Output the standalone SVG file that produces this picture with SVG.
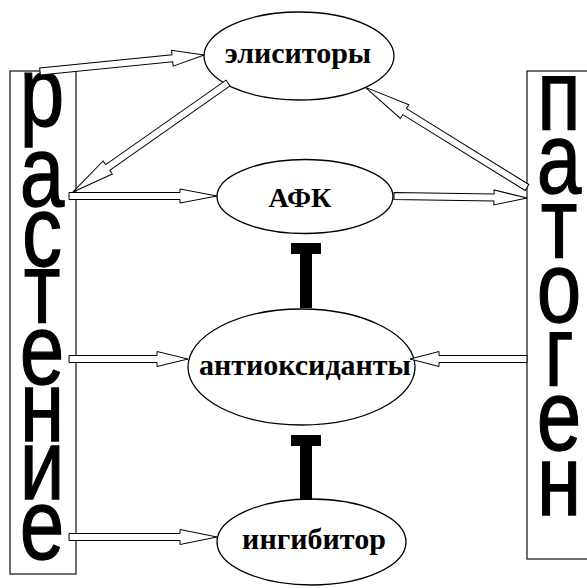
<svg xmlns="http://www.w3.org/2000/svg" width="587" height="588" viewBox="0 0 587 588">
<style>
.box{fill:none;stroke:#222;stroke-width:1.3}
.ell{fill:#fff;stroke:#000;stroke-width:1.3}
.big{font-family:"Liberation Sans",Arial,sans-serif;font-size:80px;text-anchor:middle;fill:#000;stroke:#000;stroke-width:1}
.lbl{font-family:"Liberation Serif","Times New Roman",serif;font-size:30px;font-weight:bold;text-anchor:middle;fill:#000}
.arr{fill:#fff;stroke:#000;stroke-width:1;stroke-linejoin:miter}
.bar{fill:#000}
</style>
<rect width="587" height="588" fill="#fff"/>
<g id="rastenie">
<rect class="box" x="10" y="71" width="66" height="503"/>
<text class="big" transform="scale(1,1.25)"><tspan x="42" y="100.8">р</tspan><tspan x="42" y="164.8">а</tspan><tspan x="42" y="212.8">с</tspan><tspan x="42" y="258.4">т</tspan><tspan x="42" y="307.2">е</tspan><tspan x="42" y="352.8">н</tspan><tspan x="42" y="399.2">и</tspan><tspan x="42" y="447.2">е</tspan></text>
</g>
<g id="patogen">
<rect class="box" x="527" y="71" width="70" height="488"/>
<text class="big" transform="scale(1,1.25)"><tspan x="559" y="104">п</tspan><tspan x="559" y="154.4">а</tspan><tspan x="559" y="206.4">т</tspan><tspan x="559" y="257.6">о</tspan><tspan x="559" y="308.8">г</tspan><tspan x="559" y="360">е</tspan><tspan x="559" y="412">н</tspan></text>
</g>
<g id="elicitory">
<ellipse class="ell" cx="299" cy="56" rx="95" ry="44"/>
<text class="lbl" x="298" y="63">элиситоры</text>
</g>
<g id="afk">
<ellipse class="ell" cx="305" cy="196.5" rx="88" ry="37"/>
<text class="lbl" x="300" y="207" style="font-size:28px">АФК</text>
</g>
<g id="antioksidanty">
<ellipse class="ell" cx="301.5" cy="367" rx="113.5" ry="58"/>
<text class="lbl" x="305" y="375">антиоксиданты</text>
</g>
<g id="ingibitor">
<ellipse class="ell" cx="311.5" cy="542" rx="94.5" ry="43"/>
<text class="lbl" x="314" y="549">ингибитор</text>
</g>
<g id="connectors">
<!-- растение -> элиситоры -->
<path class="arr" transform="translate(40,71.5) rotate(-5.74)" d="M0,-3.5 H133 V-8 L165,0 L133,8 V3.5 H0 Z"/>
<!-- элиситоры -> растение -->
<path class="arr" transform="translate(228,83) rotate(144.9)" d="M0,-3.5 H147 V-8 L189.5,0 L147,8 V3.5 H0 Z"/>
<!-- растение -> АФК -->
<path class="arr" transform="translate(69,196)" d="M0,-3.5 H111 V-7 L148,0 L111,7 V3.5 H0 Z"/>
<!-- патоген -> элиситоры -->
<path class="arr" transform="translate(527,187.5) rotate(211.8)" d="M0,-3.5 H144 V-8 L190.5,0 L144,8 V3.5 H0 Z"/>
<!-- АФК -> патоген -->
<path class="arr" transform="translate(394,196) rotate(0.86)" d="M0,-3.5 H100 V-7.5 L133,0 L100,7.5 V3.5 H0 Z"/>
<!-- растение -> антиоксиданты -->
<path class="arr" transform="translate(69,359)" d="M0,-3.5 H88 V-7.5 L119,0 L88,7.5 V3.5 H0 Z"/>
<!-- патоген -> антиоксиданты -->
<path class="arr" transform="translate(527,359) rotate(180)" d="M0,-3.5 H88 V-7.5 L117,0 L88,7.5 V3.5 H0 Z"/>
<!-- растение -> ингибитор -->
<path class="arr" transform="translate(69,537)" d="M0,-3.5 H111 V-7.5 L148,0 L111,7.5 V3.5 H0 Z"/>
<!-- inhibition bars -->
<rect class="bar" x="291" y="243" width="30" height="11"/>
<rect class="bar" x="300" y="254" width="12" height="54"/>
<rect class="bar" x="291" y="435" width="30" height="11"/>
<rect class="bar" x="300" y="446" width="12" height="54"/>
</g>
</svg>
